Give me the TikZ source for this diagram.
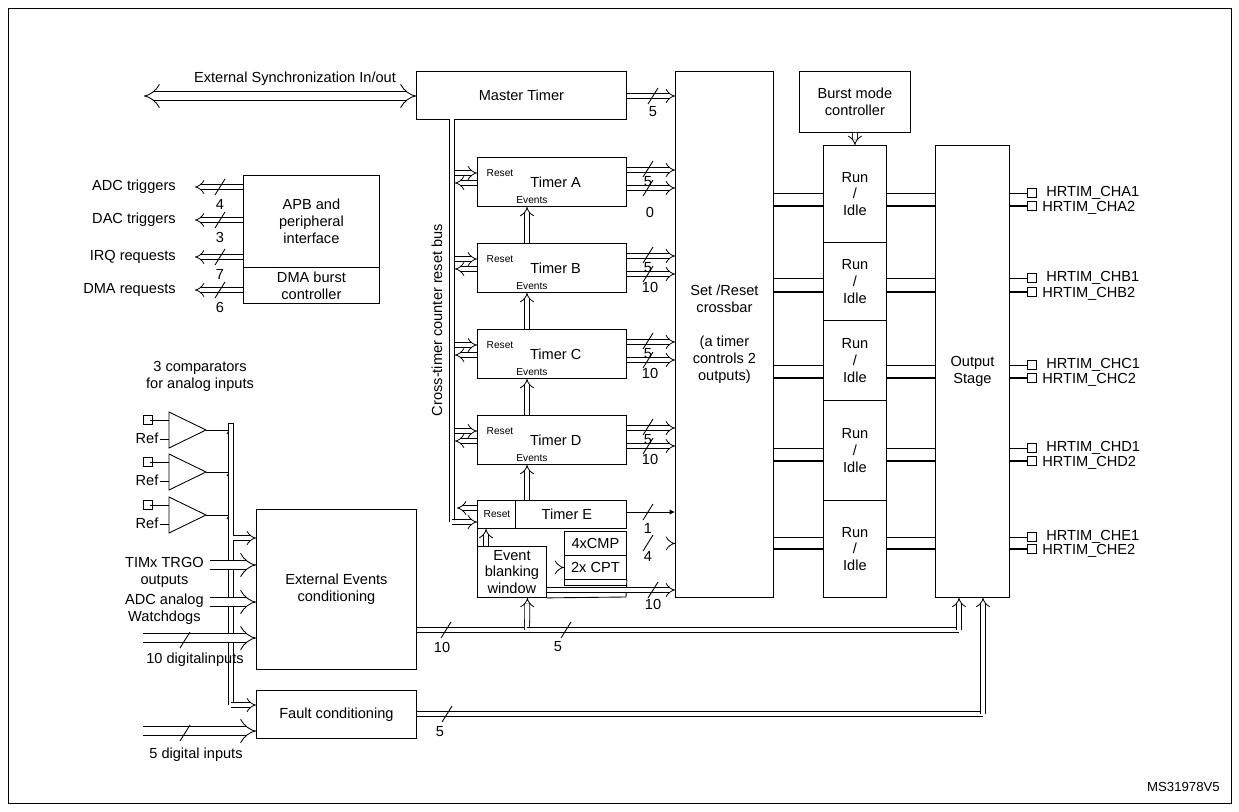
\documentclass[tikz,border=0pt]{standalone}
\usepackage{fontspec}
\setmainfont{Liberation Sans}
\usetikzlibrary{arrows.meta, positioning}

\newcommand{\tck}[2]{\draw (#1-5,#2+8) -- (#1+5,#2-8);}

\begin{document}
\begin{tikzpicture}[x=0.02cm, y=-0.02cm, line width=0.5pt,
    font=\fontsize{8.3}{9.6}\selectfont,
    box/.style={draw, inner sep=0pt, align=center, anchor=north west},
    sm/.style={font=\fontsize{5.8}{6.5}\selectfont, inner sep=0pt},
    bus/.style={double, double distance=2.4pt, line width=0.45pt, -{Implies}},
    dline/.style={double, double distance=2.4pt, line width=0.45pt},
    fat/.style={double, double distance=4.5pt, line width=0.5pt, -{Implies}},
    sig/.style={-{Latex[length=3pt,width=3pt]}},
    pin/.style={draw, inner sep=0pt, minimum size=5pt}]
    \useasboundingbox (0,0) rectangle (1239,811);
    \draw (8,8) rectangle (1231,803);

    % Master timer, crossbar, burst mode
    \node[box, minimum width=4.2cm, minimum height=0.96cm] (mt) at (416,71) {Master Timer};
    \node[box, minimum width=1.96cm, minimum height=10.52cm] (xb) at (675,71)
        {Set /Reset\\crossbar\\[9.6pt](a timer\\controls 2\\outputs)};
    \node[box, minimum width=2.22cm, minimum height=1.22cm] (bm) at (799,71) {Burst mode\\controller};
    \coordinate (es) at (144,96);
    \draw[fat, {Implies}-{Implies}] (es) -- (mt.west |- es);
    \node at (295,79) {External Synchronization In/out};
    \draw[bus] (mt.east |- es) -- (xb.west |- es);
    \tck{653}{96}
    \node at (653,112) {5};

    % Run / Idle column and output stage
    \node[box, minimum width=1.26cm, minimum height=1.94cm] (ri1) at (823,145) {Run\\/\\Idle};
    \node[box, minimum width=1.26cm, minimum height=1.56cm] (ri2) at (823,242) {Run\\/\\Idle};
    \node[box, minimum width=1.26cm, minimum height=1.6cm] (ri3) at (823,320) {Run\\/\\Idle};
    \node[box, minimum width=1.26cm, minimum height=2.0cm] (ri4) at (823,400) {Run\\/\\Idle};
    \node[box, minimum width=1.26cm, minimum height=1.94cm] (ri5) at (823,500) {Run\\/\\Idle};
    \node[box, minimum width=1.48cm, minimum height=9.04cm] (os) at (935,145) {Output\\Stage};
    \draw[bus] (bm.south) -- (ri1.north);

    \foreach \c/\r/\ya/\yb in {A/ri1/193/206, B/ri2/278/292, C/ri3/365/378, D/ri4/448/461, E/ri5/537/549} {
        \draw (xb.east |- 0,\ya) -- (\r.west |- 0,\ya);
        \draw[line width=1pt] (xb.east |- 0,\yb) -- (\r.west |- 0,\yb);
        \draw (\r.east |- 0,\ya) -- (os.west |- 0,\ya);
        \draw[line width=1pt] (\r.east |- 0,\yb) -- (os.west |- 0,\yb);
        \node[pin] (p\c1) at (1032,\ya) {};
        \node[pin] (p\c2) at (1032,\yb) {};
        \draw (os.east |- 0,\ya) -- (p\c1.west);
        \draw[line width=1pt] (os.east |- 0,\yb) -- (p\c2.west);
        \node[anchor=west] at (1040,\ya) {HRTIM\_CH\c1};
        \node[anchor=west] at (1036,\yb+2) {HRTIM\_CH\c2};
    }

    % Timers A to D
    \coordinate (bt) at (452,119);
    \coordinate (ev) at (527,0);
    \foreach \n/\y/\lo/\ld in {A/157/0/55, B/243/10/44, C/329/10/44, D/415/10/44} {
        \node[box, minimum width=2.98cm, minimum height=0.98cm] (t\n) at (477,\y) {\hspace{0.15cm}Timer \n};
        \node[sm] at (500,\y+16) {Reset};
        \node[sm] at (532,\y+43) {Events};
        \draw[bus] (455,\y+16) -- (t\n.west |- 0,\y+16);
        \draw[bus] (t\n.west |- 0,\y+26) -- (455,\y+26);
        \draw[bus] (t\n.east |- 0,\y+13) -- (xb.west |- 0,\y+13);
        \draw[bus] (t\n.east |- 0,\y+31) -- (xb.west |- 0,\y+31);
        \tck{648}{\y+12}
        \tck{648}{\y+31}
        \node at (648,\y+25) {5};
        \node at (650,\y+\ld) {\lo};
    }
    \draw[bus] (tB.north -| ev) -- (tA.south -| ev);
    \draw[bus] (tC.north -| ev) -- (tB.south -| ev);
    \draw[bus] (tD.north -| ev) -- (tC.south -| ev);

    % Timer E with blanking window
    \node[box, minimum width=2.98cm, minimum height=0.56cm] (tE) at (477,500) {\hspace{0.6cm}Timer E};
    \draw (515,500) -- (515,528);
    \node[sm] at (497,514) {Reset};
    \node[box, minimum width=1.38cm, minimum height=1.02cm] (eb) at (477,546) {Event\\blanking\\window};
    \node[box, minimum width=1.24cm, minimum height=0.48cm] (cmp) at (564,531) {4xCMP};
    \node[box, minimum width=1.24cm, minimum height=0.48cm] (cpt) at (564,555) {2x CPT};
    \draw (cpt.south west) -- (564,585) -- (626,585);
    \draw (cpt.south east) -- (626,597) -- (eb.south east);
    \draw (tE.south west) -- (eb.north west);
    \draw[bus] (tE.north -| ev) -- (tD.south -| ev);
    \draw[bus] (eb.north -| 486,0) -- (tE.south -| 486,0);
    \draw[bus] (eb.east |- cpt.west) -- (cpt.west);
    \draw[dline] (bt) -- (452,522);
    \draw[bus] (452,522) -- (tE.west |- 0,522);
    \draw[bus] (tE.west |- 0,508) -- (457,508);
    \node[rotate=90] at (437,320) {Cross-timer counter reset bus};
    \draw[sig] (tE.east |- 0,512) -- (xb.west |- 0,512);
    \tck{648}{512}
    \node at (648,528) {1};
    \draw[bus] (cmp.east) -- (xb.west |- cmp.east);
    \tck{648}{543}
    \node at (648,556) {4};
    \draw[bus] (eb.east |- 0,590) -- (xb.west |- 0,590);
    \tck{653}{590}
    \node at (653,604) {10};

    % APB and DMA
    \node[box, minimum width=2.72cm, minimum height=1.84cm] (apb) at (243,175) {APB and\\peripheral\\interface};
    \node[box, minimum width=2.72cm, minimum height=0.72cm] (dma) at (243,267) {DMA burst\\controller};
    \foreach \t/\y/\k in {ADC triggers/187/4, DAC triggers/220/3, IRQ requests/257/7, DMA requests/290/6} {
        \draw[bus] (apb.west |- 0,\y) -- (195,\y);
        \tck{220}{\y}
        \node at (220,\y+17) {\k};
        \node[anchor=east] at (182,\y) {\t};
    }

    % Comparators and inputs
    \node[align=center] at (200,376) {3 comparators\\for analog inputs};
    \foreach \y in {430,472,515} {
        \draw (169,\y-18) -- (206,\y) -- (169,\y+18) -- cycle;
        \node[pin] at (148,\y-10) {};
        \draw (150,\y-10) -- (169,\y-10);
        \node at (147,\y+8) {Ref};
        \draw (160,\y+9) -- (169,\y+9);
        \draw (206,\y) -- (229,\y);
        \draw (227,\y+4) -- (232,\y-4);
    }
    \node[box, minimum width=3.2cm, minimum height=3.2cm] (ee) at (256,509) {External Events\\conditioning};
    \node[box, minimum width=3.2cm, minimum height=0.96cm] (fc) at (256,690) {Fault conditioning};
    \draw[dline] (231,423) -- (231,705);
    \draw (228,423) -- (234,423);
    \draw[bus] (231,705) -- (fc.west |- 0,705);
    \draw[bus] (233,538) -- (ee.west |- 0,538);
    \draw[fat] (210,565) -- (ee.west |- 0,565);
    \node[align=center, anchor=east] at (210,572) {TIMx TRGO\\outputs};
    \draw[fat] (210,602) -- (ee.west |- 0,602);
    \node[align=center, anchor=east] at (210,609) {ADC analog\\Watchdogs};
    \draw[fat] (143,638) -- (ee.west |- 0,638);
    \tck{185}{640}
    \node at (195,660) {10 digitalinputs};
    \draw[fat] (143,731) -- (fc.west |- 0,731);
    \tck{185}{733}
    \node at (196,755) {5 digital inputs};

    % Event and fault buses
    \coordinate (j1) at (527,630);
    \coordinate (j2) at (959,630);
    \coordinate (j3) at (983,714);
    \draw[dline] (ee.east |- j1) -- (j1);
    \draw[bus] (j1) -- ([xshift=0.31cm]eb.south);
    \draw[dline] (j1) -- (j2);
    \draw[bus] (j2) -- (j2 |- os.south);
    \tck{446}{630}
    \node at (442,647) {10};
    \tck{566}{630}
    \node at (558,647) {5};
    \draw[dline] (fc.east |- j3) -- (j3);
    \draw[bus] (j3) -- (j3 |- os.south);
    \tck{447}{714}
    \node at (440,732) {5};

    \node[anchor=east, font=\fontsize{7.5}{9}\selectfont] at (1226,787) {MS31978V5};
\end{tikzpicture}
\end{document}
